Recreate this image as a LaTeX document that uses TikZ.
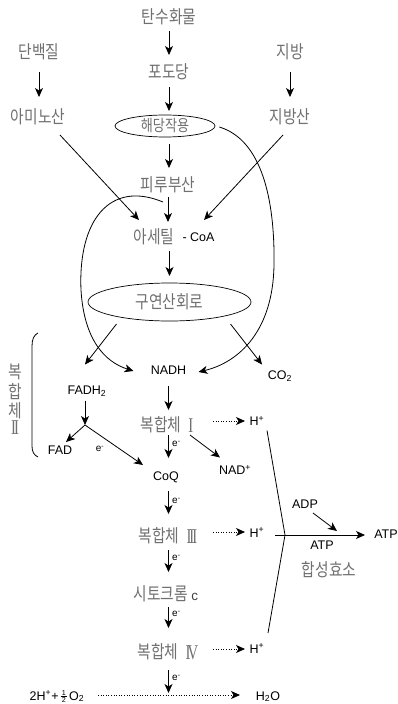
\documentclass[tikz,border=0pt]{standalone}
\usepackage{fontspec}
\setmainfont{Liberation Sans}
\newfontfamily\kr[FakeStretch=0.82]{Noto Sans CJK KR}
\newfontfamily\rom[FakeStretch=0.7]{Liberation Serif}
\usetikzlibrary{arrows.meta,calc,shapes.geometric}
\definecolor{kgray}{RGB}{112,112,112}
\tikzset{
  kt/.style={font=\kr\fontsize{18}{18}\selectfont, text=kgray, inner sep=0pt},
  lt/.style={font=\fontsize{12.5}{13}\selectfont, inner sep=0pt},
  el/.style={font=\fontsize{10}{10}\selectfont, inner sep=0pt, anchor=west},
  arr/.style={-{Stealth[length=9pt,width=8pt,inset=2.5pt]}, line width=0.8pt},
  darr/.style={arr, dash pattern=on 1pt off 1.6pt},
  ln/.style={line width=0.8pt},
  ell/.style={ellipse, draw, line width=0.7pt, inner sep=0pt, text=kgray},
}
\newcommand\vArr[4]{\draw[arr,shorten <=#3pt,shorten >=#4pt] (#1) -- (#2);}
\newcommand\rnI{\raisebox{-1pt}{\rom\fontsize{21}{21}\selectfont I}}
\newcommand\rnII{\raisebox{-1pt}{\rom\fontsize{21}{21}\selectfont I\kern-2pt I}}
\newcommand\rnIII{\raisebox{-1pt}{\rom\fontsize{21}{21}\selectfont I\kern-2pt I\kern-2pt I}}
\newcommand\rnIV{\raisebox{-1pt}{\rom\fontsize{21}{21}\selectfont I\kern-2.8pt V}}
\newcommand\halfstack{\raisebox{-2.2pt}{\vbox{\hbox to 6.5pt{\hss\fontsize{7.2}{7}\selectfont 1\hss}\kern0.7pt\hrule width 6.5pt height 0.45pt\kern0.7pt\hbox to 6.5pt{\hss\fontsize{7.2}{7}\selectfont 2\hss}}}}
\begin{document}
\begin{tikzpicture}[x=1pt,y=-1pt]
\useasboundingbox (0,0) rectangle (398,704);

% nodes
\node[kt] (carb) at (169,17) {탄수화물};
\node[kt] (prot) at (39,52) {단백질};
\node[kt] (fat) at (290,52) {지방};
\node[kt] (glu) at (169,72) {포도당};
\node[kt] (amino) at (38,117) {아미노산};
\node[kt] (fa) at (290,117) {지방산};
\node[ell, minimum width=100pt, minimum height=22pt, font=\kr\fontsize{16}{16}\selectfont] (gly) at (165,126) {해당작용};
\node[kt] (pyr) at (168,185) {피루부산};
\node[kt] (acet) at (154,237) {아세틸};
\node[lt] (coa) at (198.5,237) {- CoA};
\node[ell, minimum width=163pt, minimum height=38pt, font=\kr\fontsize{18}{18}\selectfont] (tca) at (169.5,302) {구연산회로};
\node[lt] (nadh) at (168.5,370) {NADH};
\node[lt, anchor=base] (co2) at (280,379.5) {CO\textsubscript{2}};
\node[lt, anchor=base] (fadh) at (87,394.5) {FADH\textsubscript{2}};
\node[lt] (fad) at (60,450) {FAD};
\node[kt] (cI) at (167,425) {복합체\hspace{7pt}\rnI};
\node[lt, anchor=base] (h1) at (257,425.5) {H\textsuperscript{+}};
\node[lt, anchor=base] (nad) at (235,474.5) {NAD\textsuperscript{+}};
\node[lt] (coq) at (166,477) {CoQ};
\node[kt] (cIII) at (168,536) {복합체\hspace{7pt}\rnIII};
\node[lt, anchor=base] (h3) at (257,537) {H\textsuperscript{+}};
\node[kt] (cyt) at (166,594) {시토크롬 {\normalfont\fontsize{13.5}{13.5}\selectfont\color{darkgray}c}};
\node[kt] (cIV) at (168,652) {복합체\hspace{7pt}\rnIV};
\node[lt, anchor=base] (h4) at (257,653) {H\textsuperscript{+}};
\node[lt, anchor=base] (twoh) at (57,700) {2H\textsuperscript{+}+\,\halfstack\,O\textsubscript{2}};
\node[lt, anchor=base] (h2o) at (268,700) {H\textsubscript{2}O};
\node[lt, anchor=base] (adp) at (305,508) {ADP};
\node[lt, anchor=base] (atpR) at (386,538) {ATP};
\node[lt, anchor=base] (atpB) at (322,549) {ATP};
\node[kt] (synth) at (329,570) {합성효소};

% bracket label
\node[kt] (b1) at (15,372) {복};
\node[kt] (b2) at (15,392) {합};
\node[kt] (b3) at (15,411) {체};
\node[kt] (b4) at (15,428) {\rnII};
\draw[ln] (38,333) .. controls (34,335) and (32,339) .. (32,346) -- (32,446) .. controls (32,452) and (34,455) .. (38,457);

% e- labels
\node[el] (e1) at (172,444) {e\textsuperscript{-}};
\node[el] (e2) at (172,501) {e\textsuperscript{-}};
\node[el] (e3) at (172,558) {e\textsuperscript{-}};
\node[el] (e4) at (172,614) {e\textsuperscript{-}};
\node[el] (e5) at (172,678) {e\textsuperscript{-}};
\node[font=\fontsize{10}{10}\selectfont, inner sep=0pt] (e6) at (100,449) {e\textsuperscript{-}};

% vertical arrows
\vArr{carb.center}{carb.center |- glu.center}{14}{17}
\vArr{glu.center}{glu.center |- gly.center}{15}{15}
\vArr{glu.center |- gly.center}{glu.center |- pyr.center}{18}{17}
\vArr{pyr.center}{pyr.center |- acet.center}{12}{15}
\vArr{acet.center -| tca.center}{tca.center}{14}{26}
\vArr{prot.center}{prot.center |- amino.center}{20}{20}
\vArr{fat.center}{fat.center |- fa.center}{20}{20}
\vArr{nadh.center}{nadh.center |- cI.center}{16}{15}
\vArr{nadh.center |- cI.center}{nadh.center |- coq.center}{10}{19}
\vArr{nadh.center |- coq.center}{nadh.center |- cIII.center}{14}{22}
\vArr{nadh.center |- cIII.center}{nadh.center |- cyt.center}{14}{22}
\vArr{nadh.center |- cyt.center}{nadh.center |- cIV.center}{13}{24}
\draw[arr, shorten <=18pt] (nadh.center |- cIV.center) -- ($(nadh.center |- h2o.base)+(0,-7)$);

% diagonal arrows
\draw[arr] ($(amino.center)+(22,18)$) -- ($(acet.center)+(-15,-17)$);
\draw[arr] ($(fa.center)+(-7,18)$) -- ($(coa.center)+(5.5,-17)$);
\draw[arr] ($(tca.center)+(-53,22)$) -- ($(fadh.base)+(-2,-30)$);
\draw[arr] ($(tca.center)+(61,22)$) -- ($(co2.base)+(-18,-15)$);

% curves
\draw[arr] ($(pyr.center)+(-5,17)$) .. controls (110,180) and (78,220) .. (81,290) .. controls (84,340) and (105,362) .. ($(nadh.center)+(-35,1)$);
\draw[arr] ($(gly.east)+(4,1)$) .. controls (262,140) and (275,200) .. (274,265) .. controls (273,330) and (240,362) .. ($(nadh.center)+(30,2)$);

% FADH2 branch
\coordinate (junc) at (85,425);
\draw[arr, shorten <=6pt] ($(fadh.base)+(-2,0)$) -- (junc);
\draw[arr] (junc) -- ($(fad.center)+(6,-8)$);
\draw[arr] (junc) -- ($(coq.center)+(-23,-12)$);
\draw[arr] ($(cI.center)+(23,10)$) -- ($(nad.base)+(-15,-17)$);

% dotted proton arrows
\draw[darr] ($(cI.center)+(46,-4)$) -- ($(h1.base)+(-12,-4.5)$);
\draw[darr] ($(cIII.center)+(45,-4)$) -- ($(h3.base)+(-12,-5)$);
\draw[darr] ($(cIV.center)+(45,-3)$) -- ($(h4.base)+(-12,-4)$);
\draw[darr] ($(twoh.base)+(41,-5)$) -- ($(h2o.base)+(-28,-5)$);

% ATP synthase
\coordinate (vtx) at (285,535);
\draw[ln] ($(h1.base)+(10,5)$) -- (vtx) -- ($(h4.base)+(11,-20)$);
\draw[arr] ($(vtx)+(-10,0)$) -- ($(atpR.base)+(-21,-3)$);
\draw[arr] ($(adp.base)+(8,5)$) -- ($(adp.base)+(32,23)$);
\end{tikzpicture}
\end{document}
